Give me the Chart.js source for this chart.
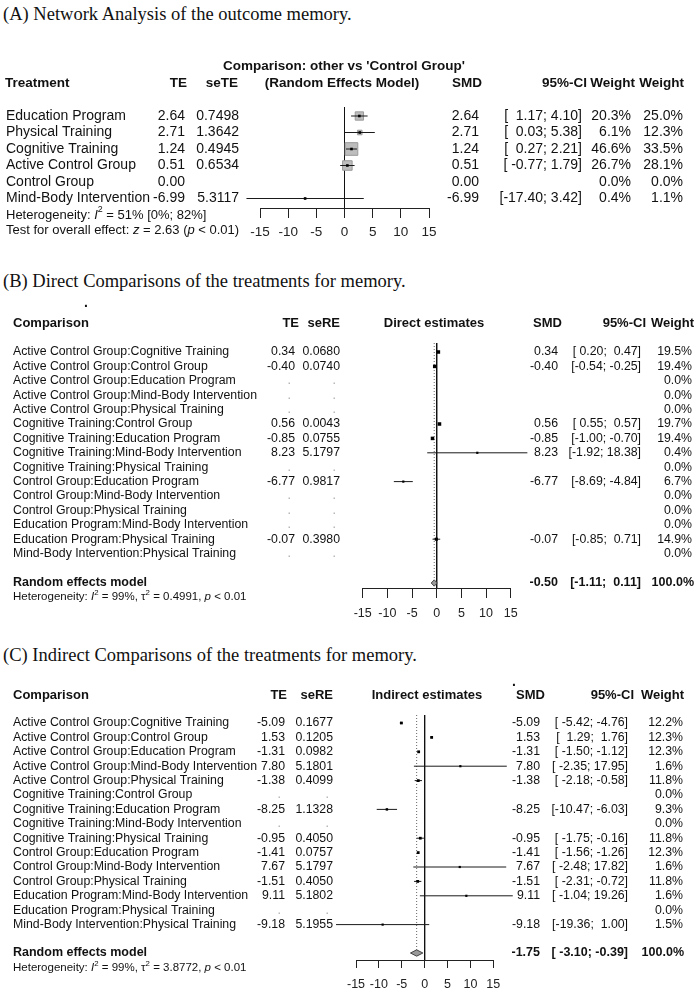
<!DOCTYPE html>
<html>
<head>
<meta charset="utf-8">
<title>Forest plots - memory</title>
<script src="https://cdn.jsdelivr.net/npm/chart.js@4.4.1/dist/chart.umd.min.js"></script>
<style>
  body { margin: 0; background: #fff; }
  #page { position: relative; width: 700px; height: 992px; overflow: hidden; }
  .ttl { position: absolute; left: 3px; font-family: "Liberation Serif", "Times New Roman", serif;
         font-size: 18.5px; line-height: 20px; color: #111; white-space: nowrap; }
  canvas { position: absolute; left: 0; }
</style>
</head>
<body>
<div id="page">
  <div class="ttl" style="top:4px">(A) Network Analysis of the outcome memory.</div>
  <div class="ttl" style="top:271px">(B) Direct Comparisons of the treatments for memory.</div>
  <div class="ttl" style="top:645px">(C) Indirect Comparisons of the treatments for memory.</div>
  <canvas id="chartA" width="700" height="210" style="top:40px"></canvas>
  <canvas id="chartB" width="700" height="340" style="top:290px"></canvas>
  <canvas id="chartC" width="700" height="324" style="top:668px"></canvas>
</div>
<script>
var xTicks = [-15, -10, -5, 0, 5, 10, 15];

// (A) network estimates, other vs 'Control Group'
var treatA = ['Education Program', 'Physical Training', 'Cognitive Training',
              'Active Control Group', 'Control Group', 'Mind-Body Intervention'];
var teA   = [2.64, 2.71, 1.24, 0.51, 0.00, -6.99];
var seA   = [0.7498, 1.3642, 0.4945, 0.6534, null, 5.3117];
var loA   = [1.17, 0.03, 0.27, -0.77, null, -17.40];
var hiA   = [4.10, 5.38, 2.21, 1.79, null, 3.42];
var wFixA = [20.3, 6.1, 46.6, 26.7, 0.0, 0.4];
var wRanA = [25.0, 12.3, 33.5, 28.1, 0.0, 1.1];
var i2A = [51, 0, 82];
var zA = 2.63;

// (B) direct comparisons
var compB = ['Active Control Group:Cognitive Training', 'Active Control Group:Control Group',
             'Active Control Group:Education Program', 'Active Control Group:Mind-Body Intervention',
             'Active Control Group:Physical Training', 'Cognitive Training:Control Group',
             'Cognitive Training:Education Program', 'Cognitive Training:Mind-Body Intervention',
             'Cognitive Training:Physical Training', 'Control Group:Education Program',
             'Control Group:Mind-Body Intervention', 'Control Group:Physical Training',
             'Education Program:Mind-Body Intervention', 'Education Program:Physical Training',
             'Mind-Body Intervention:Physical Training'];
var teB = [0.34, -0.40, null, null, null, 0.56, -0.85, 8.23, null, -6.77, null, null, null, -0.07, null];
var seB = [0.0680, 0.0740, null, null, null, 0.0043, 0.0755, 5.1797, null, 0.9817, null, null, null, 0.3980, null];
var loB = [0.20, -0.54, null, null, null, 0.55, -1.00, -1.92, null, -8.69, null, null, null, -0.85, null];
var hiB = [0.47, -0.25, null, null, null, 0.57, -0.70, 18.38, null, -4.84, null, null, null, 0.71, null];
var wB  = [19.5, 19.4, 0.0, 0.0, 0.0, 19.7, 19.4, 0.4, 0.0, 6.7, 0.0, 0.0, 0.0, 14.9, 0.0];
var reB = -0.50, reLoB = -1.11, reHiB = 0.11;
var i2B = 99, tau2B = 0.4991;

// (C) indirect comparisons
var compC = compB.slice();
var teC = [-5.09, 1.53, -1.31, 7.80, -1.38, null, -8.25, null, -0.95, -1.41, 7.67, -1.51, 9.11, null, -9.18];
var seC = [0.1677, 0.1205, 0.0982, 5.1801, 0.4099, null, 1.1328, null, 0.4050, 0.0757, 5.1797, 0.4050, 5.1802, null, 5.1955];
var loC = [-5.42, 1.29, -1.50, -2.35, -2.18, null, -10.47, null, -1.75, -1.56, -2.48, -2.31, -1.04, null, -19.36];
var hiC = [-4.76, 1.76, -1.12, 17.95, -0.58, null, -6.03, null, -0.16, -1.26, 17.82, -0.72, 19.26, null, 1.00];
var wC  = [12.2, 12.3, 12.3, 1.6, 11.8, 0.0, 9.3, 0.0, 11.8, 12.3, 1.6, 11.8, 1.6, 0.0, 1.5];
var reC = -1.75, reLoC = -3.10, reHiC = -0.39;
var i2C = 99, tau2C = 3.8772;

var FAM = '"Liberation Sans", Arial, sans-serif';

function f2(v) { return v === null ? '' : v.toFixed(2); }
function f4(v) { return v === null ? '' : v.toFixed(4); }
function pct(v) { return v.toFixed(1) + '%'; }

// R style "[lower; upper]" padded to the widest entry of the column
function ciText(lo, hi) {
    var L = lo.map(f2), H = hi.map(f2);
    var wl = Math.max.apply(null, L.map(function (s) { return s.length; }));
    var wh = Math.max.apply(null, H.map(function (s) { return s.length; }));
    return lo.map(function (v, i) {
        return v === null ? '' : '[' + L[i].padStart(wl) + '; ' + H[i].padStart(wh) + ']';
    });
}

function drawRich(ctx, x, y, parts, size) {
    ctx.textAlign = 'left';
    parts.forEach(function (p) {
        var s = p.sup ? size * 0.68 : size;
        ctx.font = (p.it ? 'italic ' : '') + s + 'px ' + FAM;
        ctx.fillText(p.t, x, p.sup ? y - size * 0.38 : y);
        x += ctx.measureText(p.t).width;
    });
}

function tablePlugin(items) {
    return {
        id: 'table',
        afterDraw: function (chart) {
            var ctx = chart.ctx, ys = chart.scales.y;
            ctx.save();
            ctx.textBaseline = 'middle';
            items.forEach(function (it) {
                var y = ys.getPixelForValue(it.row);
                ctx.fillStyle = it.color || '#111';
                if (it.parts) { drawRich(ctx, it.x, y, it.parts, it.size); return; }
                ctx.font = (it.bold ? 'bold ' : '') + it.size + 'px ' + FAM;
                ctx.textAlign = it.align || 'left';
                ctx.fillText(it.text, it.x, y);
            });
            ctx.restore();
        }
    };
}

function lineSet(pts, color, width, dash, order, fill) {
    return {
        type: 'line', data: pts, borderColor: color, borderWidth: width, borderDash: dash || [],
        pointRadius: 0, clip: false, order: order, tension: 0,
        fill: fill ? 'shape' : false, backgroundColor: fill || 'transparent'
    };
}

// points, CI lines, optional grey weight boxes and the line of no effect
function markSets(te, lo, hi, w, o) {
    var rows = te.map(function (v, i) { return i; }).filter(function (i) { return lo[i] !== null; });
    var pts = rows.map(function (i) { return { x: te[i], y: i }; });
    var sets = [{
        type: 'scatter', data: pts, pointStyle: 'rect', clip: false, order: 0,
        pointRadius: rows.map(function (i) { return o.dot(w[i]) * Math.SQRT1_2; }),
        backgroundColor: '#000', borderWidth: 0
    }];
    rows.forEach(function (i) {
        sets.push(lineSet([{ x: lo[i], y: i }, { x: hi[i], y: i }], '#1a1a1a', 1, null, 1));
    });
    if (o.box) {
        sets.push({
            type: 'scatter', data: pts, pointStyle: 'rect', clip: false, order: 2,
            pointRadius: rows.map(function (i) { return o.box(w[i]) * Math.SQRT1_2; }),
            backgroundColor: '#bdbdbd', borderColor: '#9a9a9a', borderWidth: 1
        });
    }
    sets.push(lineSet([{ x: 0, y: o.top }, { x: 0, y: o.axis }], '#111', 1, null, 3));
    return sets;
}

function summarySets(re, lo, hi, row, top) {
    var hh = 0.22;
    return [
        lineSet([{ x: re, y: top }, { x: re, y: row - hh }], '#666', 1, [1, 2], 4),
        lineSet([{ x: lo, y: row }, { x: re, y: row - hh }, { x: hi, y: row }, { x: re, y: row + hh }, { x: lo, y: row }],
                '#444', 1, null, 1, '#9a9a9a')
    ];
}

function forest(id, g, sets, items, ax) {
    var chart = new Chart(document.getElementById(id), {
        type: 'scatter',
        data: { datasets: sets },
        options: {
            responsive: false, animation: false, devicePixelRatio: 1, events: [],
            layout: { padding: { left: g.left, right: 700 - g.right, top: 0, bottom: 0 } },
            plugins: { legend: { display: false }, tooltip: { enabled: false } },
            scales: {
                x: {
                    type: 'linear', min: xTicks[0], max: xTicks[xTicks.length - 1],
                    position: { y: ax.row },
                    afterBuildTicks: function (s) { s.ticks = xTicks.map(function (v) { return { value: v }; }); },
                    grid: { drawOnChartArea: false, drawTicks: true, tickLength: ax.tick, tickColor: '#222', tickWidth: 1 },
                    border: { display: true, color: '#222', width: 1 },
                    ticks: { color: '#222', padding: ax.pad, font: { family: FAM, size: ax.font }, maxRotation: 0, autoSkip: false }
                },
                y: {
                    type: 'linear', reverse: true, display: false,
                    min: (g.top - g.row0) / g.step, max: (g.top + g.h - g.row0) / g.step
                }
            }
        },
        plugins: [tablePlugin(items)]
    });
    // keep rows and x range on their page positions if the layout moved the plot area
    var a = chart.chartArea, o = chart.options;
    if (Math.abs(a.top) > 0.5 || Math.abs(a.bottom - g.h) > 0.5 ||
        Math.abs(a.left - g.left) > 0.5 || Math.abs(a.right - g.right) > 0.5) {
        o.scales.y.min = (g.top + a.top - g.row0) / g.step;
        o.scales.y.max = (g.top + a.bottom - g.row0) / g.step;
        o.layout.padding.left += g.left - a.left;
        o.layout.padding.right += a.right - g.right;
        chart.update();
    }
    return chart;
}

// ---------- panel A
var gA = { top: 40, h: 210, row0: 116, step: 16.5, left: 260, right: 429 };
function rA(y) { return (y - gA.row0) / gA.step; }
var ciA = ciText(loA, hiA);
var itemsA = [
    { text: "Comparison: other vs 'Control Group'", x: 344, row: rA(66), align: 'center', size: 13.5, bold: true },
    { text: 'Treatment', x: 5, row: rA(83), size: 13.5, bold: true },
    { text: 'TE', x: 187, row: rA(83), align: 'right', size: 13.5, bold: true },
    { text: 'seTE', x: 238, row: rA(83), align: 'right', size: 13.5, bold: true },
    { text: '(Random Effects Model)', x: 342, row: rA(83), align: 'center', size: 13.5, bold: true },
    { text: 'SMD', x: 482, row: rA(83), align: 'right', size: 13.5, bold: true },
    { text: '95%-CI', x: 587, row: rA(83), align: 'right', size: 13.5, bold: true },
    { text: 'Weight', x: 635, row: rA(83), align: 'right', size: 13.5, bold: true },
    { text: 'Weight', x: 684, row: rA(83), align: 'right', size: 13.5, bold: true }
];
treatA.forEach(function (t, i) {
    itemsA.push(
        { text: t, x: 6, row: i, size: 14 },
        { text: f2(teA[i]), x: 185, row: i, align: 'right', size: 14 },
        { text: f4(seA[i]), x: 239, row: i, align: 'right', size: 14 },
        { text: f2(teA[i]), x: 479, row: i, align: 'right', size: 14 },
        { text: ciA[i], x: 582, row: i, align: 'right', size: 14 },
        { text: pct(wFixA[i]), x: 631, row: i, align: 'right', size: 14 },
        { text: pct(wRanA[i]), x: 683, row: i, align: 'right', size: 14 }
    );
});
itemsA.push(
    { x: 6, row: rA(215), size: 13, parts: [{ t: 'Heterogeneity: ' }, { t: 'I', it: 1 }, { t: '2', sup: 1 },
        { t: ' = ' + i2A[0] + '% [' + i2A[1] + '%; ' + i2A[2] + '%]' }] },
    { x: 6, row: rA(230), size: 13, parts: [{ t: 'Test for overall effect: ' }, { t: 'z', it: 1 },
        { t: ' = ' + zA.toFixed(2) + ' (' }, { t: 'p', it: 1 }, { t: ' < 0.01)' }] }
);
var axA = { row: rA(208), tick: 9, pad: 7, font: 13.5 };
forest('chartA', gA, markSets(teA, loA, hiA, wFixA, {
    dot: function () { return 2.6; },
    box: function (w) { return 1.85 * Math.sqrt(w); },
    top: rA(107), axis: axA.row
}), itemsA, axA);

// ---------- panels B and C share the same table layout
function compItems(g, rowY, comp, te, se, lo, hi, w, re, reLo, reHi, i2, tau2, col, head) {
    var ci = ciText(lo.concat([reLo]), hi.concat([reHi]));
    var hy = rowY(col.headY);
    var it = [
        { text: '.', x: col.dotX, row: rowY(col.dotY), align: 'center', size: 14, bold: true },
        { text: 'Comparison', x: 13, row: hy, size: 13, bold: true },
        { text: 'TE', x: col.teH, row: hy, align: 'right', size: 13, bold: true },
        { text: 'seRE', x: col.seH, row: hy, align: 'right', size: 13, bold: true },
        { text: head, x: col.mid, row: hy, align: 'center', size: 13, bold: true },
        { text: 'SMD', x: col.smdH, row: hy, align: 'right', size: 13, bold: true },
        { text: '95%-CI', x: col.ciH, row: hy, align: 'right', size: 13, bold: true },
        { text: 'Weight', x: col.wH, row: hy, align: 'right', size: 13, bold: true }
    ];
    comp.forEach(function (c, i) {
        it.push({ text: c, x: 13, row: i, size: 12.3 });
        if (te[i] === null) {
            it.push({ text: '.', x: col.te - 4, row: i, align: 'right', size: 12.3, color: '#aaa' },
                    { text: '.', x: col.se - 4, row: i, align: 'right', size: 12.3, color: '#aaa' });
        } else {
            it.push({ text: f2(te[i]), x: col.te, row: i, align: 'right', size: 12.3 },
                    { text: f4(se[i]), x: col.se, row: i, align: 'right', size: 12.3 },
                    { text: f2(te[i]), x: col.smd, row: i, align: 'right', size: 12.3 },
                    { text: ci[i], x: col.ci, row: i, align: 'right', size: 12.3 });
        }
        it.push({ text: pct(w[i]), x: col.w, row: i, align: 'right', size: 12.3 });
    });
    var rr = rowY(col.reY);
    it.push(
        { text: 'Random effects model', x: 13, row: rr, size: 12.5, bold: true },
        { text: f2(re), x: col.smd, row: rr, align: 'right', size: 12.5, bold: true },
        { text: ci[comp.length], x: col.ci, row: rr, align: 'right', size: 12.5, bold: true },
        { text: pct(100), x: col.wH, row: rr, align: 'right', size: 12.5, bold: true },
        { x: 13, row: rowY(col.hetY), size: 11.5, parts: [{ t: 'Heterogeneity: ' }, { t: 'I', it: 1 }, { t: '2', sup: 1 },
            { t: ' = ' + i2 + '%, ' }, { t: '\u03c4' }, { t: '2', sup: 1 }, { t: ' = ' + tau2.toFixed(4) + ', ' },
            { t: 'p', it: 1 }, { t: ' < 0.01' }] }
    );
    return it;
}

// ---------- panel B
var gB = { top: 290, h: 340, row0: 352, step: 14.4, left: 362.7, right: 510.7 };
function rB(y) { return (y - gB.row0) / gB.step; }
var colB = { dotX: 86, dotY: 303, headY: 323, teH: 299, seH: 340, mid: 434, smdH: 562, ciH: 646, wH: 694,
             te: 295, se: 340, smd: 558, ci: 641, w: 692, reY: 583, hetY: 597 };
var axB = { row: rB(588), tick: 9, pad: 9, font: 12.5 };
forest('chartB', gB,
    markSets(teB, loB, hiB, wB, {
        dot: function (w) { return Math.max(2.2, 0.8 * Math.sqrt(w)); },
        top: rB(343), axis: axB.row
    }).concat(summarySets(reB, reLoB, reHiB, rB(583), rB(343))),
    compItems(gB, rB, compB, teB, seB, loB, hiB, wB, reB, reLoB, reHiB, i2B, tau2B, colB, 'Direct estimates'), axB);

// ---------- panel C
var gC = { top: 668, h: 324, row0: 723, step: 14.4, left: 356, right: 493.3 };
function rC(y) { return (y - gC.row0) / gC.step; }
var colC = { dotX: 514, dotY: 682, headY: 695, teH: 287, seH: 333, mid: 427, smdH: 545, ciH: 634, wH: 684,
             te: 285, se: 333, smd: 540, ci: 628, w: 683, reY: 953, hetY: 968 };
var axC = { row: rC(960), tick: 7, pad: 10.5, font: 12.5 };
forest('chartC', gC,
    markSets(teC, loC, hiC, wC, {
        dot: function (w) { return Math.max(2.2, 0.8 * Math.sqrt(w)); },
        top: rC(715), axis: axC.row
    }).concat(summarySets(reC, reLoC, reHiC, rC(953), rC(715))),
    compItems(gC, rC, compC, teC, seC, loC, hiC, wC, reC, reLoC, reHiC, i2C, tau2C, colC, 'Indirect estimates'), axC);
</script>
</body>
</html>
